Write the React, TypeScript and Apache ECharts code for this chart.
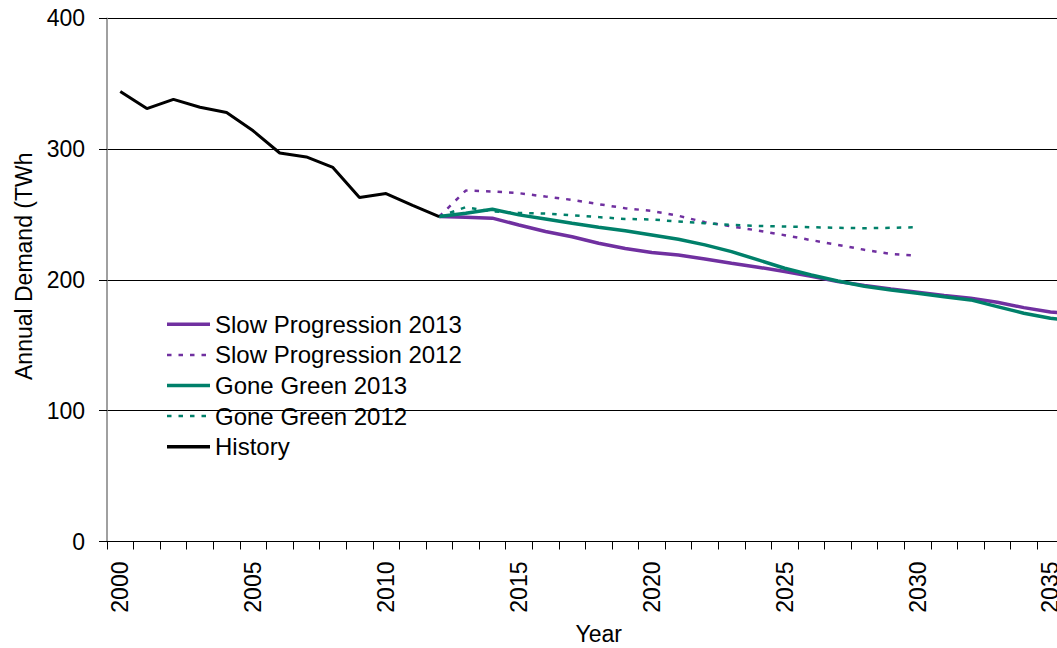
import React, { useEffect, useRef } from "react";
import * as echarts from "echarts";

const years = [
  "2000", "2001", "2002", "2003", "2004", "2005", "2006", "2007", "2008", "2009",
  "2010", "2011", "2012", "2013", "2014", "2015", "2016", "2017", "2018", "2019",
  "2020", "2021", "2022", "2023", "2024", "2025", "2026", "2027", "2028", "2029",
  "2030", "2031", "2032", "2033", "2034", "2035", "2036",
];

// History 2000-2012
const history = [344, 331, 338, 332, 328, 314, 297, 294, 286, 263, 266, 257, 248.4];

// Projections from 2012 onward
const slowProgression2013 = [
  248.4, 247.9, 247.2, 242, 237, 233, 228, 224, 221, 219, 216, 212.7, 209.7, 206.4,
  202.7, 198.8, 195.8, 193.1, 190.6, 188, 185.9, 182.9, 178.8, 175.5, 174,
];
const slowProgression2012 = [
  248.4, 268.3, 267.6, 266.3, 263.7, 261.2, 257.9, 254.8, 252.7, 249, 244.1, 240.9,
  237.7, 234.2, 230.4, 226.8, 223, 219.8, 218.6,
];
const goneGreen2013 = [
  248.4, 251, 254, 249.7, 246.6, 243.3, 240.3, 237.5, 234.4, 231.1, 226.8, 221.6,
  215.3, 208.9, 203.8, 199.2, 195.2, 192.3, 189.8, 187.2, 184.7, 179.6, 174.5, 170.7, 168,
];
const goneGreen2012 = [
  248.4, 255.6, 252.3, 251.2, 250.7, 249.5, 248, 246.6, 246.2, 244.6, 243.3, 242,
  241.3, 240.8, 240.3, 239.8, 239.5, 239.8, 240.3,
];

const seriesNames = [
  "Slow Progression 2013",
  "Slow Progression 2012",
  "Gone Green 2013",
  "Gone Green 2012",
  "History",
];

const yTicks = { min: 0, max: 400, interval: 100 };
const projectionStart = 12;

const PURPLE = "#7030A0";
const GREEN = "#00806A";
const FONT = "'Liberation Sans', Arial, sans-serif";
const DOT: number[] = [4.5, 7];

function pad(values: number[], start: number): (number | null)[] {
  const out: (number | null)[] = [];
  for (let i = 0; i < years.length; i++) {
    const j = i - start;
    out.push(j >= 0 && j < values.length ? values[j] : null);
  }
  return out;
}

export default function App() {
  const ref = useRef<HTMLDivElement>(null);

  useEffect(() => {
    if (!ref.current) return;
    const chart = echarts.init(ref.current, null, { renderer: "svg" });
    const catWidth = 26.575;

    const seriesDefs = [
      { name: seriesNames[0], data: pad(slowProgression2013, projectionStart), color: PURPLE, width: 3.5, dash: null },
      { name: seriesNames[1], data: pad(slowProgression2012, projectionStart), color: PURPLE, width: 2.5, dash: DOT },
      { name: seriesNames[2], data: pad(goneGreen2013, projectionStart), color: GREEN, width: 3.5, dash: null },
      { name: seriesNames[3], data: pad(goneGreen2012, projectionStart), color: GREEN, width: 2.5, dash: DOT },
      { name: seriesNames[4], data: pad(history, 0), color: "#000", width: 3, dash: null },
    ];

    // Legend drawn as graphic (white box, line samples, labels)
    const legendLeft = 150;
    const legendTop = 297;
    const rowStep = 30.6;
    const firstRowY = 324.3;
    const legendChildren: any[] = [
      {
        type: "rect",
        shape: { x: legendLeft, y: legendTop, width: 333, height: 170 },
        style: { fill: "#fff" },
      },
    ];
    seriesDefs.forEach((s, i) => {
      const cy = firstRowY + i * rowStep;
      legendChildren.push({
        type: "line",
        shape: { x1: 167, y1: cy, x2: 210, y2: cy },
        style: {
          stroke: s.color,
          lineWidth: s.dash ? 2.5 : 3.5,
          lineDash: s.dash || undefined,
        },
      });
      legendChildren.push({
        type: "text",
        x: 215,
        y: cy,
        style: {
          text: s.name,
          align: "left",
          verticalAlign: "middle",
          fontSize: 24,
          fontFamily: FONT,
          fill: "#000",
        },
      });
    });

    chart.setOption({
      animation: false,
      backgroundColor: "#fff",
      textStyle: { fontFamily: FONT },
      grid: {
        left: 107,
        top: 18.3,
        width: catWidth * years.length,
        height: 523.2,
        containLabel: false,
        outerBoundsMode: "none",
      },
      xAxis: {
        type: "category",
        data: years,
        boundaryGap: true,
        axisLine: { show: true, lineStyle: { color: "#000", width: 1 } },
        axisTick: { show: true, interval: 0, length: 8, lineStyle: { color: "#000" } },
        axisLabel: {
          interval: 4,
          rotate: 90,
          margin: 20,
          fontSize: 23,
          color: "#000",
          fontFamily: FONT,
        },
        splitLine: { show: false },
        name: "Year",
        nameLocation: "middle",
        nameGap: 81,
        nameTextStyle: { fontSize: 23, color: "#000", fontFamily: FONT },
      },
      yAxis: {
        type: "value",
        min: yTicks.min,
        max: yTicks.max,
        interval: yTicks.interval,
        axisLine: { show: true, lineStyle: { color: "#808080", width: 1.5 } },
        axisTick: { show: true, length: 8, lineStyle: { color: "#000" } },
        axisLabel: { margin: 22, fontSize: 23, color: "#000", fontFamily: FONT },
        splitLine: { show: true, lineStyle: { color: "#000", width: 1 } },
      },
      graphic: [
        {
          type: "text",
          x: 24,
          y: 380,
          rotation: Math.PI / 2,
          style: {
            text: "Annual Demand (TWh",
            x: 0,
            y: 0,
            align: "left",
            verticalAlign: "middle",
            fontSize: 23,
            fontFamily: FONT,
            fill: "#000",
          },
        },
        { type: "group", z: 100, children: legendChildren },
      ],
      series: seriesDefs.map((s) => ({
        name: s.name,
        type: "line",
        data: s.data,
        symbol: "none",
        itemStyle: { color: s.color },
        lineStyle: s.dash
          ? { color: s.color, width: s.width, type: s.dash }
          : { color: s.color, width: s.width },
      })),
    });
    return () => chart.dispose();
  }, []);

  return (
    <div
      style={{
        position: "fixed",
        left: 0,
        top: 0,
        width: 1057,
        height: 648,
        overflow: "hidden",
        background: "#fff",
      }}
    >
      <div ref={ref} style={{ width: 1120, height: 648 }} />
    </div>
  );
}
